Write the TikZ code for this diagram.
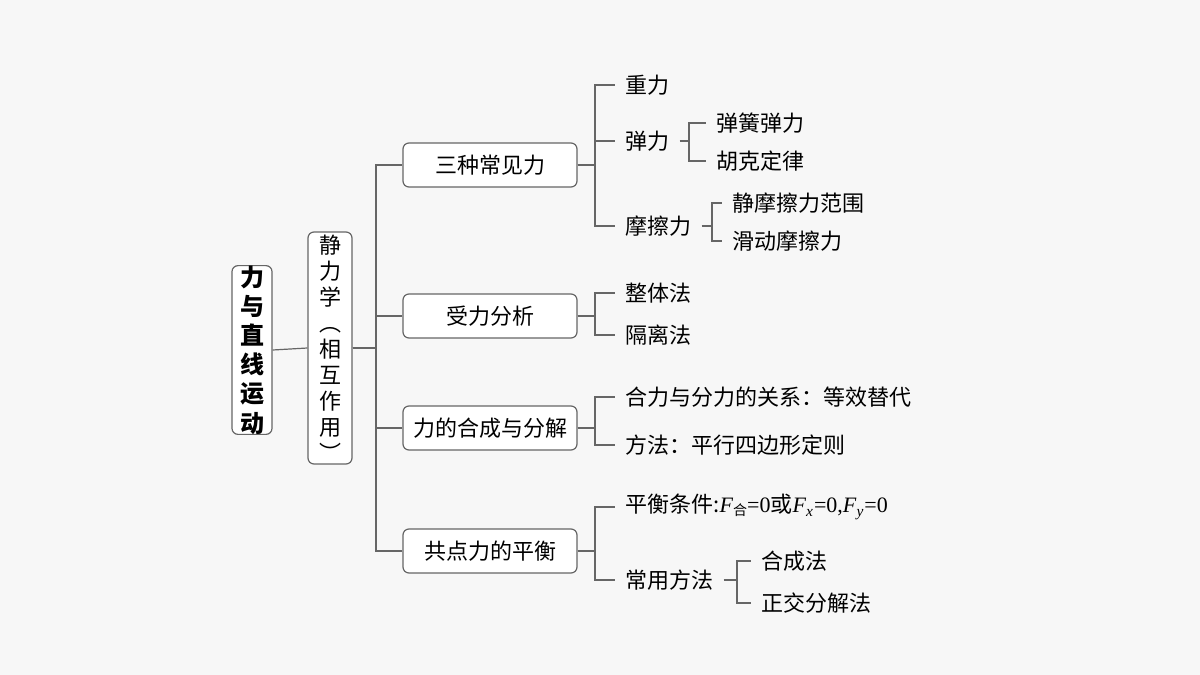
\documentclass[tikz,border=0pt]{standalone}
\usepackage{fontspec}
\setmainfont{Noto Sans CJK SC}
\newfontfamily\tnr{Liberation Serif}
\newfontfamily\cjk{Noto Sans CJK SC}
\begin{document}
\begin{tikzpicture}[x=0.5pt,y=-0.5pt,
  box/.style={draw=black!60,rounded corners=3pt,line width=0.6pt,fill=white,inner sep=0pt,font=\fontsize{11}{13}\selectfont},
  leaf/.style={anchor=west,inner xsep=5pt,inner ysep=1pt,font=\fontsize{11}{13}\selectfont},
  conn/.style={draw=black!60,line width=0.6pt}]
\fill[white!97!black] (0,0) rectangle (1200,675);
\useasboundingbox (0,0) rectangle (1200,675);

% roots
\node[box,minimum width=20pt,minimum height=82pt,align=center,font=\fontsize{12}{14.6}\selectfont\bfseries] (root) at (252,350) {力\\与\\直\\线\\运\\动};
\node[box,minimum width=22pt,minimum height=116pt,align=center] (stat) at (330,348) {静\\力\\学\\︵\\相\\互\\作\\用\\︶};

% second level
\node[box,minimum width=87pt,minimum height=22pt] (three) at (490,165) {三种常见力};
\node[box,minimum width=87pt,minimum height=22pt] (anal) at (490,316) {受力分析};
\node[box,minimum width=87pt,minimum height=22pt] (comp) at (490,428) {力的合成与分解};
\node[box,minimum width=87pt,minimum height=22pt] (equi) at (490,551) {共点力的平衡};

% leaves
\node[leaf] (grav) at (615,85) {重力};
\node[leaf] (elas) at (615,141) {弹力};
\node[leaf] (fric) at (615,226) {摩擦力};
\node[leaf] (spring) at (706,123) {弹簧弹力};
\node[leaf] (hooke) at (706,161) {胡克定律};
\node[leaf] (stfr) at (722,203) {静摩擦力范围};
\node[leaf] (slfr) at (722,241) {滑动摩擦力};
\node[leaf] (whole) at (615,293) {整体法};
\node[leaf] (iso) at (615,335) {隔离法};
\node[leaf] (rel) at (615,397) {合力与分力的关系：等效替代};
\node[leaf] (meth) at (615,445) {方法：平行四边形定则};
\node[leaf] (cond) at (615,507) {平衡条件:{\tnr\textit{F}\raisebox{-0.3ex}{\cjk\fontsize{7}{8}\selectfont 合}=0}或{\tnr\textit{F}\textsubscript{\textit{x}}=0,\textit{F}\textsubscript{\textit{y}}=0}};
\node[leaf] (usual) at (615,580) {常用方法};
\node[leaf] (synth) at (751,561) {合成法};
\node[leaf] (orth) at (751,603) {正交分解法};

% connectors
\draw[conn] (root.east) -- (stat.west);
\foreach \b in {three,anal,comp,equi}
  \draw[conn] (stat.east) -- (376,348) |- (\b.west);
\foreach \l in {grav,elas,fric}
  \draw[conn] (three.east) -- (595,165) |- (\l.west);
\foreach \l in {spring,hooke}
  \draw[conn] (elas.east) -- (689,141) |- (\l.west);
\foreach \l in {stfr,slfr}
  \draw[conn] (fric.east) -- (712,226) |- (\l.west);
\foreach \l in {whole,iso}
  \draw[conn] (anal.east) -- (595,316) |- (\l.west);
\foreach \l in {rel,meth}
  \draw[conn] (comp.east) -- (595,428) |- (\l.west);
\foreach \l in {cond,usual}
  \draw[conn] (equi.east) -- (595,551) |- (\l.west);
\foreach \l in {synth,orth}
  \draw[conn] (usual.east) -- (737,580) |- (\l.west);
\end{tikzpicture}
\end{document}
